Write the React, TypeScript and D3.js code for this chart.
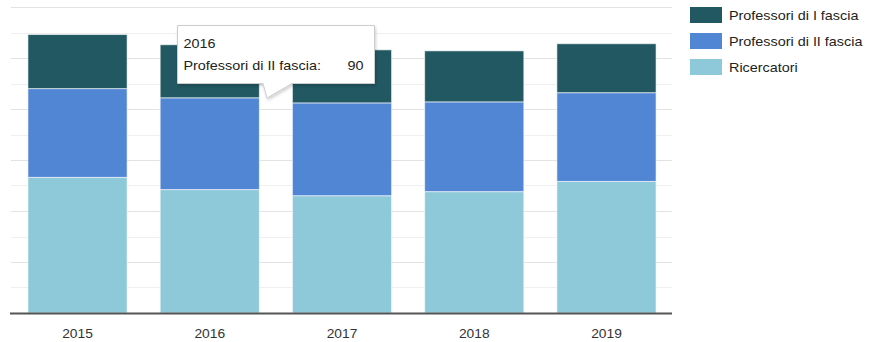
import React from "react";
import * as d3 from "d3";

const years = ["2015", "2016", "2017", "2018", "2019"];
const ricercatori = [133, 121, 115, 119, 129];
const professoriII = [87, 90, 91, 88, 87];
const professoriI = [53, 52, 52, 50, 48];

const seriesNames = ["Ricercatori", "Professori di II fascia", "Professori di I fascia"];
const seriesColors = ["#8ec9d9", "#5086d4", "#215862"];
const legendOrder = [2, 1, 0];
const gridTicks = d3.range(0, 301, 25);

const W = 869;
const H = 342;
const FONT = "Arial, 'Liberation Sans', sans-serif";
const SX = 1.15;

function Txt(props: { x: number; y: number; size: number; anchor?: string; fill?: string; children: any }) {
  const { x, y, size, anchor, fill, children } = props;
  return (
    <text
      transform={`translate(${x},${y}) scale(${SX},1)`}
      textAnchor={anchor || "start"}
      fontFamily={FONT}
      fontSize={size}
      fill={fill || "#222"}
    >
      {children}
    </text>
  );
}

export default function App() {
  const x = d3.scaleBand<string>().domain(years).range([11.4, 672.6]).paddingInner(0.25).paddingOuter(0.125);
  const y = d3.scaleLinear().domain([0, 300]).range([313, 7]);

  const rows = years.map((yr, i) => ({
    year: yr,
    s0: ricercatori[i],
    s1: professoriII[i],
    s2: professoriI[i],
  }));
  const stacked = d3.stack<any>().keys(["s0", "s1", "s2"])(rows);

  const tipIdx = 1;
  const tipX = 177.5;
  const tipY = 25.5;
  const tipW = 197;
  const tipH = 58;

  return (
    <div style={{ position: "absolute", left: 0, top: 0 }}>
      <svg width={W} height={H} style={{ display: "block", background: "#fff" }}>
        <defs>
          <filter id="sh" x="-10%" y="-10%" width="130%" height="140%">
            <feDropShadow dx="1" dy="2" stdDeviation="1.5" floodColor="#000" floodOpacity="0.18" />
          </filter>
        </defs>
        {gridTicks.map((t) => (
          <line
            key={t}
            x1={11}
            x2={672}
            y1={Math.round(y(t)) + 0.5}
            y2={Math.round(y(t)) + 0.5}
            stroke={t % 50 === 0 ? "#e2e2e2" : "#efefef"}
            strokeWidth={1}
          />
        ))}
        {stacked.map((layer, li) => (
          <g key={li} fill={seriesColors[li]}>
            {layer.map((d, i) => (
              <rect
                key={i}
                x={x(years[i])}
                width={x.bandwidth()}
                y={y(d[1])}
                height={y(d[0]) - y(d[1])}
                stroke="#ffffff"
                strokeOpacity={0.6}
                strokeWidth={1}
              />
            ))}
          </g>
        ))}
        <line x1={10} x2={672} y1={313.5} y2={313.5} stroke="#555" strokeWidth={2} />
        {years.map((yr) => (
          <Txt key={yr} x={(x(yr) as number) + x.bandwidth() / 2} y={337.5} size={12} anchor="middle" fill="#333">
            {yr}
          </Txt>
        ))}
        {legendOrder.map((si, k) => (
          <g key={si}>
            <rect x={690} y={7 + k * 26} width={32} height={16} fill={seriesColors[si]} />
            <Txt x={729} y={7 + k * 26 + 12.5} size={12.5} fill="#222">
              {seriesNames[si]}
            </Txt>
          </g>
        ))}
        <g filter="url(#sh)">
          <path
            d={`M${tipX},${tipY} H${tipX + tipW} V${tipY + tipH} H292 L267,98 L263,${tipY + tipH} H${tipX} Z`}
            fill="#fff"
            stroke="#cccccc"
            strokeWidth={1}
          />
        </g>
        <Txt x={tipX + 6} y={48} size={12.5}>
          {years[tipIdx]}
        </Txt>
        <Txt x={tipX + 6} y={70} size={12.5}>
          {seriesNames[1] + ":"}
        </Txt>
        <Txt x={tipX + tipW - 11} y={70} size={12.5} anchor="end">
          {professoriII[tipIdx]}
        </Txt>
      </svg>
    </div>
  );
}
